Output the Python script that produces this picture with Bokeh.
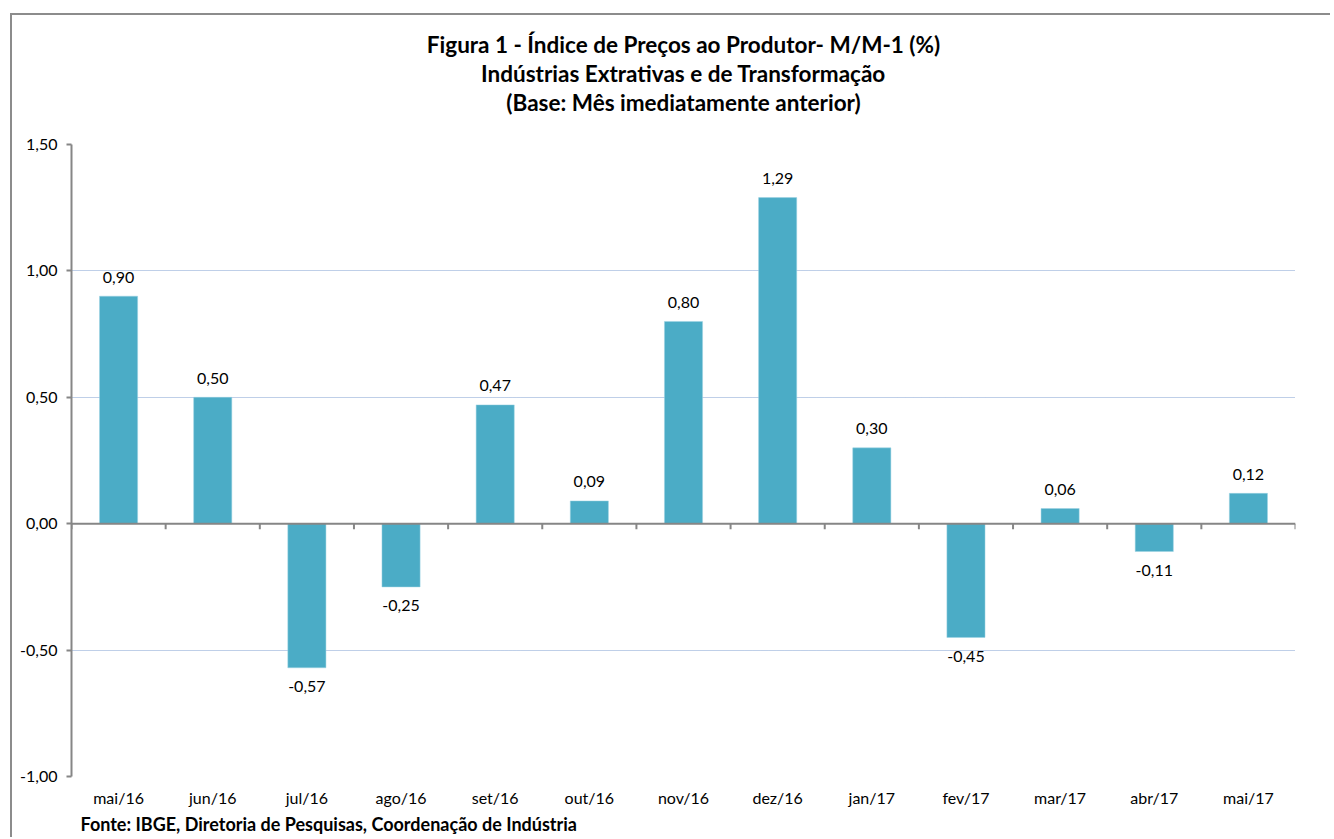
from bokeh.plotting import figure
from bokeh.models import (ColumnDataSource, LabelSet, FixedTicker, Span, Title, Range1d)
from bokeh.core.properties import value
from bokeh.embed import file_html
from bokeh.resources import INLINE

categories = ["mai/16", "jun/16", "jul/16", "ago/16", "set/16", "out/16", "nov/16",
              "dez/16", "jan/17", "fev/17", "mar/17", "abr/17", "mai/17"]
values = [0.90, 0.50, -0.57, -0.25, 0.47, 0.09, 0.80, 1.29, 0.30, -0.45, 0.06, -0.11, 0.12]
y_ticks = [-1.0, -0.5, 0.0, 0.5, 1.0, 1.5]
y_tick_labels = ["-1,00", "-0,50", "0,00", "0,50", "1,00", "1,50"]
title_lines = ["Figura 1 - Índice de Preços ao Produtor- M/M-1 (%)",
               "Indústrias Extrativas e de Transformação",
               "(Base: Mês imediatamente anterior)"]
source_note = "Fonte: IBGE, Diretoria  de Pesquisas, Coordenação de Indústria"

FONT = "Lato"
BAR = "#4BACC6"
n = len(categories)
xs = [i + 0.5 for i in range(n)]
labels = [f"{v:.2f}".replace(".", ",") for v in values]
pos = [v >= 0 for v in values]

src_pos = ColumnDataSource(dict(x=[x for x, p in zip(xs, pos) if p],
                                top=[v for v, p in zip(values, pos) if p],
                                lab=[l for l, p in zip(labels, pos) if p]))
src_neg = ColumnDataSource(dict(x=[x for x, p in zip(xs, pos) if not p],
                                top=[v for v, p in zip(values, pos) if not p],
                                lab=[l for l, p in zip(labels, pos) if not p]))

p = figure(width=1320, height=824, output_backend="svg", toolbar_location=None,
           x_range=Range1d(0, n), y_range=Range1d(y_ticks[0], y_ticks[-1]),
           min_border_left=59, min_border_right=37, min_border_top=129,
           min_border_bottom=63, title=None)
p.margin = (13, 0, 0, 10)
p.styles = {"border-left": "2px solid #8C8C8C", "border-top": "2px solid #8C8C8C"}
p.outline_line_color = None
p.background_fill_color = "white"
p.border_fill_color = "white"

# grid
p.xgrid.visible = False
p.ygrid.ticker = FixedTicker(ticks=y_ticks)
p.ygrid.grid_line_color = "#7F9FD0"
p.ygrid.grid_line_dash = "1 1"
p.ygrid.grid_line_width = 1

# bars
p.vbar(x="x", top="top", bottom=0, width=0.405, source=src_pos,
       fill_color=BAR, line_color="#9CD3E2", line_width=0.5)
p.vbar(x="x", top="top", bottom=0, width=0.405, source=src_neg,
       fill_color=BAR, line_color="#9CD3E2", line_width=0.5)

# zero axis with ticks at category boundaries
p.add_layout(Span(location=0, dimension="width", line_color="#868686", line_width=2))
bounds = list(range(n + 1))
p.segment(x0=bounds, y0=[0] * len(bounds), x1=bounds, y1=[-0.022] * len(bounds),
          line_color="#868686", line_width=2)

# data labels
for src, off in ((src_pos, 19), (src_neg, -19)):
    p.add_layout(LabelSet(x="x", y="top", text="lab", source=src, y_offset=off,
                          text_align="center", text_baseline="middle",
                          text_font=value(FONT), text_font_size="16px",
                          text_color="black"))

# y axis
p.yaxis.ticker = FixedTicker(ticks=y_ticks)
p.yaxis.major_label_overrides = dict(zip(y_ticks, y_tick_labels))
p.yaxis.axis_line_color = "#868686"
p.yaxis.axis_line_width = 2
p.yaxis.major_tick_line_color = "#868686"
p.yaxis.major_tick_line_width = 2
p.yaxis.major_tick_out = 5
p.yaxis.major_tick_in = 0
p.yaxis.minor_tick_line_color = None
p.yaxis.major_label_text_font = FONT
p.yaxis.major_label_text_font_size = "16px"
p.yaxis.major_label_text_color = "black"
p.yaxis.major_label_standoff = 9

# x axis: labels only
p.xaxis.ticker = FixedTicker(ticks=xs)
p.xaxis.major_label_overrides = dict(zip(xs, categories))
p.xaxis.axis_line_color = None
p.xaxis.major_tick_line_color = None
p.xaxis.minor_tick_line_color = None
p.xaxis.major_tick_out = 0
p.xaxis.major_tick_in = 0
p.xaxis.major_label_standoff = 11
p.xaxis.major_label_text_font = FONT
p.xaxis.major_label_text_font_size = "16px"
p.xaxis.major_label_text_color = "black"

# spacer between frame and title block
p.add_layout(Title(text=" ", standoff=16, text_font_size="10px",
                   text_color="white"), "above")
# title lines (added from the frame outward) and source note
for line in reversed(title_lines):
    p.add_layout(Title(text=line, align="center", standoff=0,
                       text_font=FONT, text_font_style="bold",
                       text_font_size="22.5px", text_color="black"), "above")
p.add_layout(Title(text=source_note, align="left", offset=9, standoff=2,
                   text_font=FONT, text_font_style="bold", text_font_size="18px",
                   text_color="black"), "below")

open("out.html", "w").write(file_html(p, INLINE))
